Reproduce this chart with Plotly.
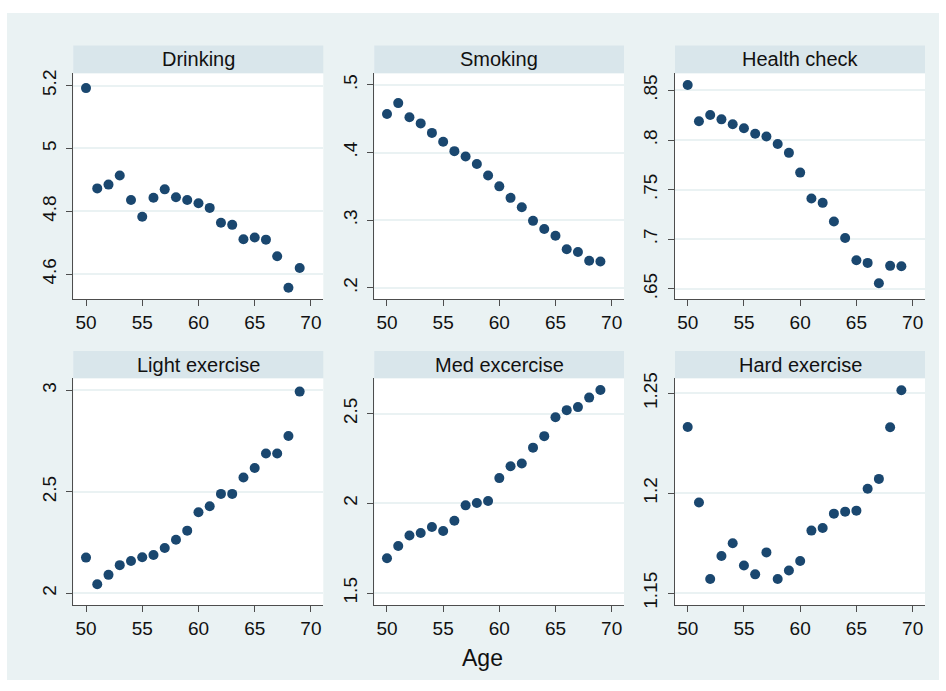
import plotly.graph_objects as go

# ---------------- data ----------------
ages = list(range(50, 70))

drinking = [5.192, 4.873, 4.885, 4.914, 4.836, 4.783, 4.843, 4.870, 4.845, 4.836,
            4.826, 4.811, 4.764, 4.757, 4.711, 4.717, 4.710, 4.657, 4.557, 4.620]
smoking = [0.457, 0.473, 0.452, 0.443, 0.429, 0.416, 0.402, 0.394, 0.383, 0.366,
           0.350, 0.333, 0.319, 0.299, 0.287, 0.277, 0.257, 0.253, 0.240, 0.239]
health_check = [0.8556, 0.8189, 0.8252, 0.8209, 0.8159, 0.8119, 0.8063, 0.8036, 0.7960, 0.7871,
                0.7672, 0.7411, 0.7367, 0.7179, 0.7013, 0.6788, 0.6762, 0.6556, 0.6732, 0.6729]
light_exercise = [2.176, 2.045, 2.091, 2.139, 2.159, 2.178, 2.189, 2.223, 2.264, 2.309,
                  2.400, 2.429, 2.490, 2.490, 2.571, 2.618, 2.689, 2.689, 2.775, 2.994]
med_exercise = [1.694, 1.762, 1.821, 1.835, 1.868, 1.846, 1.903, 1.989, 2.002, 2.013,
                2.141, 2.207, 2.223, 2.311, 2.375, 2.480, 2.520, 2.537, 2.590, 2.632]
hard_exercise = [1.2332, 1.1954, 1.1571, 1.1686, 1.1750, 1.1638, 1.1594, 1.1704, 1.1571, 1.1613,
                 1.1661, 1.1813, 1.1826, 1.1898, 1.1908, 1.1913, 1.2023, 1.2072, 1.2331, 1.2516]

titles = ["Drinking", "Smoking", "Health check", "Light exercise", "Med excercise", "Hard exercise"]
series = [drinking, smoking, health_check, light_exercise, med_exercise, hard_exercise]

x_tickvals = [50, 55, 60, 65, 70]
x_ticktext = ["50", "55", "60", "65", "70"]

y_tickvals = [
    [4.6, 4.8, 5.0, 5.2],
    [0.2, 0.3, 0.4, 0.5],
    [0.65, 0.70, 0.75, 0.80, 0.85],
    [2.0, 2.5, 3.0],
    [1.5, 2.0, 2.5],
    [1.15, 1.20, 1.25],
]
y_ticktext = [
    ["4.6", "4.8", "5", "5.2"],
    [".2", ".3", ".4", ".5"],
    [".65", ".7", ".75", ".8", ".85"],
    ["2", "2.5", "3"],
    ["1.5", "2", "2.5"],
    ["1.15", "1.2", "1.25"],
]
x_axis_title = "Age"

# ---------------- layout constants ----------------
W, H = 946, 691
y_ranges = [[4.520, 5.239], [0.183, 0.517], [0.6394, 0.8673],
            [1.943, 3.060], [1.434, 2.698], [1.1441, 1.2576]]
x_range = [48.87, 71.1]

cols_px = [(73.3, 323.3), (374.3, 624.0), (675.0, 925.0)]
rows_px = [(68.3, 297.7), (377.7, 607.7)]
strips_px = [(40.0, 68.3), (350.0, 377.7)]

BG = "#EAF2F3"
STRIP = "#D9E6EB"
MARK = "#1A476F"
AXIS = "#4D4D4D"
FONT = "Liberation Sans, Arial, Helvetica, sans-serif"


def fx(p):
    return p / W


def fy(p):
    return 1 - p / H


fig = go.Figure()
shapes = [dict(type="rect", xref="paper", yref="paper", x0=fx(7), x1=fx(939), y0=fy(684), y1=fy(7),
               fillcolor=BG, line=dict(width=0), layer="below")]
annotations = []

for i, (title, vals) in enumerate(zip(titles, series)):
    r, c = divmod(i, 3)
    k = i + 1
    xa = "x" if k == 1 else f"x{k}"
    ya = "y" if k == 1 else f"y{k}"
    fig.add_trace(go.Scatter(x=ages, y=vals, mode="markers", xaxis=xa, yaxis=ya,
                             marker=dict(color=MARK, size=10, line=dict(width=0)),
                             showlegend=False, hoverinfo="x+y"))
    x0, x1 = cols_px[c]
    yt, yb = rows_px[r]
    st, sb = strips_px[r]
    xname = "xaxis" if k == 1 else f"xaxis{k}"
    yname = "yaxis" if k == 1 else f"yaxis{k}"
    fig.layout[xname] = dict(domain=[fx(x0), fx(x1)], anchor=ya, range=x_range,
                             tickmode="array", tickvals=x_tickvals, ticktext=x_ticktext,
                             showgrid=False, zeroline=False, showline=True, linecolor=AXIS,
                             linewidth=1.2, ticks="outside", ticklen=6, tickcolor=AXIS,
                             tickwidth=1.2, ticklabelstandoff=0,
                             tickfont=dict(size=19, color="#111", family=FONT))
    fig.layout[yname] = dict(domain=[fy(yb), fy(yt)], anchor=xa, range=y_ranges[i],
                             tickmode="array", tickvals=y_tickvals[i], ticktext=y_ticktext[i],
                             tickangle=-90, showgrid=True, gridcolor=BG, gridwidth=1.5,
                             zeroline=False, showline=True, linecolor=AXIS, linewidth=1.2,
                             ticks="outside", ticklen=6, tickcolor=AXIS, tickwidth=1.2,
                             ticklabelstandoff=3,
                             tickfont=dict(size=19, color="#111", family=FONT))
    # white plot area
    shapes.append(dict(type="rect", xref="paper", yref="paper", x0=fx(x0), x1=fx(x1),
                       y0=fy(yb), y1=fy(yt), fillcolor="white", line=dict(width=0), layer="below"))
    # title strip
    shapes.append(dict(type="rect", xref="paper", yref="paper", x0=fx(x0), x1=fx(x1),
                       y0=fy(sb), y1=fy(st), fillcolor=STRIP, line=dict(width=0), layer="below"))
    annotations.append(dict(text=title, xref="paper", yref="paper", x=fx((x0 + x1) / 2),
                            y=fy((st + sb) / 2), xanchor="center", yanchor="middle",
                            showarrow=False, font=dict(size=20, color="#111", family=FONT)))

annotations.append(dict(text=x_axis_title, xref="paper", yref="paper", x=fx(482), y=fy(662),
                        xanchor="center", yanchor="middle", showarrow=False,
                        font=dict(size=23, color="#111", family=FONT)))

fig.update_layout(width=W, height=H, margin=dict(l=0, r=0, t=0, b=0, pad=0),
                  paper_bgcolor="white", plot_bgcolor="white",
                  shapes=shapes, annotations=annotations,
                  font=dict(family=FONT, color="#111"))

fig.write_html("out.html", config={"displayModeBar": False},
               post_script="document.body.style.margin='0';document.body.style.padding='0';"
                           "document.documentElement.style.overflow='hidden';")
